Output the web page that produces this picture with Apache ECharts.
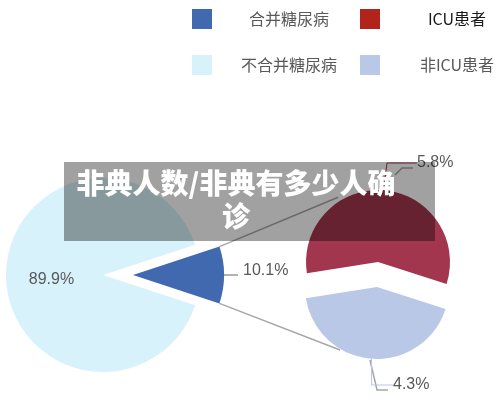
<!DOCTYPE html>
<html>
<head>
<meta charset="utf-8">
<script src="https://cdn.jsdelivr.net/npm/echarts@6/dist/echarts.min.js"></script>
<style>
  html, body { margin: 0; padding: 0; background: #fff; }
  #main { width: 500px; height: 404px; }
</style>
</head>
<body>
<div id="main"></div>
<script>
// data
const outerNames = ['合并糖尿病', '不合并糖尿病'];
const outerValues = [10.1, 89.9];
const innerNames = ['ICU患者', '非ICU患者'];
const innerValues = [5.8, 4.3];
const titleText = '非典人数/非典有多少人确诊';

const colBlue = '#4169B0', colLight = '#D7F2FB', colRed = '#A2364F', colLav = '#B8C8E6';
const legendRed = '#B2241B';
const hidden = 'rgba(0,0,0,0)';
const labelFont = { fontFamily: 'Liberation Sans, Noto Sans CJK SC', fontSize: 16, color: '#595959' };

let chart = echarts.init(document.getElementById('main'), null, { renderer: 'canvas' });

const outerSum = outerValues[0] + outerValues[1];
const leftStart = outerValues[0] / outerSum * 180;

function fmt(p) { return p.value.toFixed(1) + '%'; }

// one series per visible slice, the other slice left transparent
function sliceData(names, values, showIdx, colors) {
  return names.map((n, i) => ({
    name: n,
    value: values[i],
    itemStyle: { color: i === showIdx ? colors[i] : hidden },
    label: { show: i === showIdx },
    labelLine: { show: i === showIdx }
  }));
}

const base = {
  type: 'pie',
  silent: true,
  animation: false,
  avoidLabelOverlap: false,
  emphasis: { disabled: true },
  clockwise: true
};

function legendCol(left, names, colors, styles) {
  return {
    orient: 'vertical',
    left: left,
    top: 9,
    padding: 0,
    itemWidth: 20,
    itemHeight: 20,
    itemGap: 26,
    icon: 'rect',
    selectedMode: false,
    data: names.map((n, i) => ({ name: n, itemStyle: { color: colors[i] } })),
    formatter: name => '{' + styles[names.indexOf(name)] + '|' + name + '}',
    textStyle: {
      rich: {
        g: { width: 144, align: 'center', fontSize: 16, color: '#595959', fontFamily: 'Noto Sans CJK SC' },
        k: { width: 144, align: 'center', fontSize: 16, color: '#1a1a1a', fontFamily: 'Noto Sans CJK SC' }
      }
    }
  };
}

chart.setOption({
  backgroundColor: '#fff',
  legend: [
    legendCol(192, [outerNames[0], outerNames[1]], [colBlue, colLight], ['g', 'g']),
    legendCol(360, [innerNames[0], innerNames[1]], [legendRed, colLav], ['k', 'g'])
  ],
  series: [
    Object.assign({}, base, {
      center: [103, 275], radius: 97, startAngle: leftStart,
      label: Object.assign({ position: 'inside', formatter: fmt }, labelFont),
      labelLayout: { dy: 5 },
      data: sliceData(outerNames, outerValues, 1, [colBlue, colLight])
    }),
    Object.assign({}, base, {
      center: [133, 275], radius: 91, startAngle: leftStart,
      label: Object.assign({ position: 'outside', formatter: fmt, distanceToLabelLine: 5 }, labelFont),
      labelLine: { length: 6, length2: 8, lineStyle: { color: '#999', width: 1.5 } },
      labelLayout: { dy: -4 },
      data: sliceData(outerNames, outerValues, 0, [colBlue, colLight])
    }),
    Object.assign({}, base, {
      center: [378, 262], radius: 72, startAngle: 189,
      label: Object.assign({ position: 'outside', formatter: fmt }, labelFont),
      labelLine: { show: false },
      labelLayout: { x: 417, y: 163, align: 'left', verticalAlign: 'middle' },
      data: sliceData(innerNames, innerValues, 0, [colRed, colLav])
    }),
    Object.assign({}, base, {
      center: [377, 287], radius: 72, startAngle: 189,
      label: Object.assign({ position: 'outside', formatter: fmt }, labelFont),
      labelLine: { show: false },
      labelLayout: { x: 393, y: 385, align: 'left', verticalAlign: 'middle' },
      data: sliceData(innerNames, innerValues, 1, [colRed, colLav])
    })
  ],
  graphic: (function () {
    const a = leftStart * Math.PI / 180;
    const top = [133 + 91 * Math.cos(a), 275 - 91 * Math.sin(a)];
    const bot = [133 + 91 * Math.cos(a), 275 + 91 * Math.sin(a)];
    const ra = 121.6 * Math.PI / 180, la = 239.6 * Math.PI / 180;
    const redEnd = [378 + 76 * Math.cos(ra), 262 - 76 * Math.sin(ra)];
    const lavEnd = [377 + 73 * Math.cos(la), 287 - 73 * Math.sin(la)];
    const line = { stroke: '#a6a6a6', lineWidth: 1.5, fill: null };
    return [
      { type: 'polyline', z: 1, silent: true, shape: { points: [top, redEnd] }, style: line },
      { type: 'polyline', z: 1, silent: true, shape: { points: [bot, lavEnd] }, style: line },
      { type: 'polyline', z: 1, silent: true, shape: { points: [[395, 175], [402, 168], [413, 168]] }, style: line },
      { type: 'polyline', z: 1, silent: true, shape: { points: [[370, 360], [377, 390], [388, 390]] }, style: line },
      { type: 'rect', z: 100, silent: true, shape: { x: 64, y: 162, width: 371, height: 79 }, style: { fill: 'rgba(0,0,0,0.37)' } },
      {
        type: 'text', z: 101, silent: true, x: 236, y: 167,
        style: {
          text: titleText, width: 330, overflow: 'break', align: 'center', verticalAlign: 'top',
          lineHeight: 33, fill: '#fff', fontSize: 28, fontWeight: 900, fontFamily: 'Noto Sans CJK SC'
        }
      }
    ];
  })()
});
</script>
</body>
</html>
